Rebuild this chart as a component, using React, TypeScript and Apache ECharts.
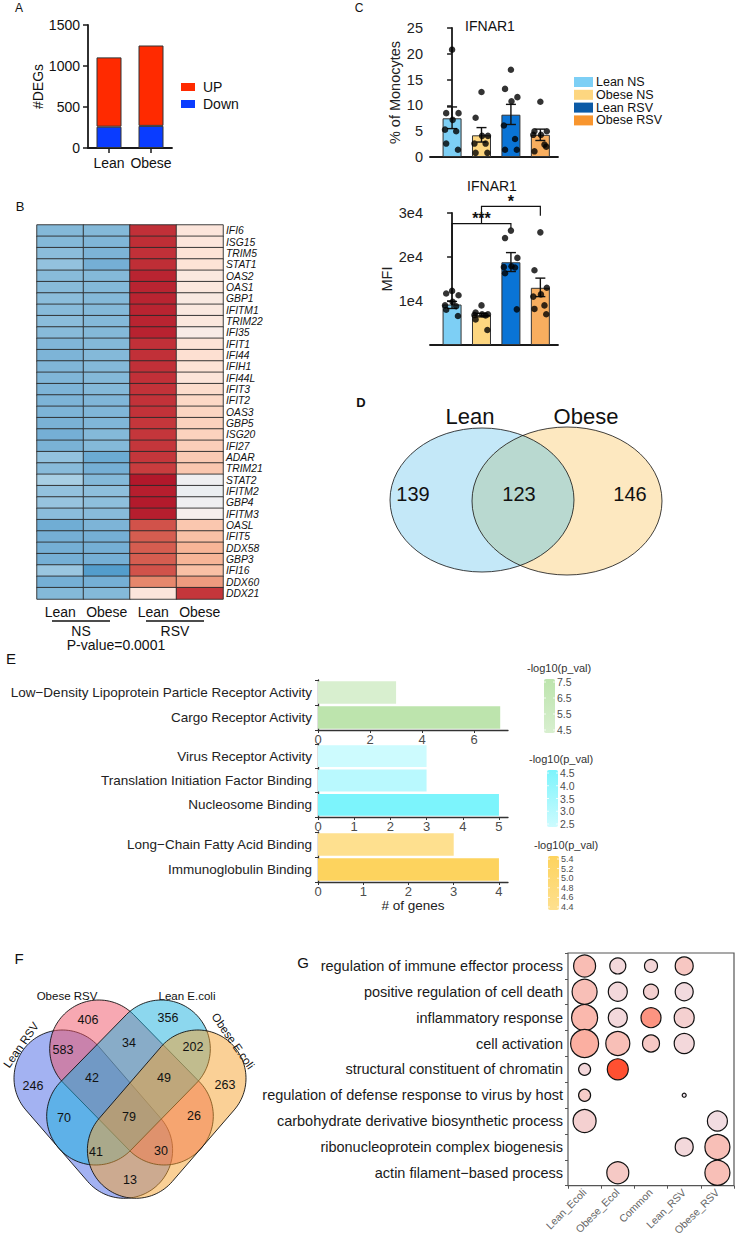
import React, { useEffect, useRef } from 'react';
import * as echarts from 'echarts';

const FONT = '"Liberation Sans", Arial, Helvetica, sans-serif';

// ---------- Panel A ----------
const degGroups = ['Lean', 'Obese'];
const degDown = [260, 270];
const degUp = [845, 980];
const degLegend = ['UP', 'Down'];
const degColors = ['#ff2a00', '#0a3cff'];

// ---------- Panel C ----------
const ifnGroups = ['Lean NS', 'Obese NS', 'Lean RSV', 'Obese RSV'];
const ifnBarColors = ['#7dcff5', '#fdd680', '#0a74d6', '#f8ae5f'];
const ifnLegendColors = ['#7dcff5', '#fdd680', '#0b5aa6', '#f8952e'];
const pctMean = [7.5, 4.2, 8.2, 4.3];
const pctLow = [5.5, 2.9, 6.3, 3.2];
const pctHigh = [9.7, 5.7, 10.2, 5.4];
const pctDots = [
  [20.8, 8.5, 8.5, 7.2, 5.3, 5.0, 2.6, 1.4],
  [12.6, 7.6, 4.1, 4.1, 2.6, 2.6, 0.8, 0.8],
  [16.9, 13.2, 11.6, 10.8, 6.1, 3.5, 1.4, 1.4],
  [10.7, 5.0, 5.0, 4.3, 4.3, 2.4, 1.1, 2.0],
];
const mfiMean = [9200, 6800, 18800, 13000];
const mfiLow = [8300, 6400, 16700, 11000];
const mfiHigh = [9900, 7200, 21000, 15200];
const mfiDots = [
  [12300, 11700, 11300, 9800, 9000, 8800, 8000, 6600],
  [9000, 7400, 7000, 7000, 6800, 6700, 5800, 3400],
  [26000, 24300, 19800, 17900, 17700, 17600, 16300, 8100],
  [25600, 17000, 13000, 11500, 11000, 9000, 8200, 7000],
];
const dotJitter = [0, -0.2, 0.22, 0.02, -0.24, 0.14, -0.2, 0.2];
const sigBrackets = [
  { from: 0, to: 2, top: 27600, leftEnd: 14800, rightEnd: 26500, label: '***' },
  { from: 1, to: 3, top: 31500, leftEnd: 27600, rightEnd: 29400, label: '*' },
];

// ---------- Panel B ----------
const heatCols = ['Lean NS', 'Obese NS', 'Lean RSV', 'Obese RSV'];
const heatGenes = ['IFI6', 'ISG15', 'TRIM5', 'STAT1', 'OAS2', 'OAS1', 'GBP1', 'IFITM1', 'TRIM22', 'IFI35', 'IFIT1', 'IFI44', 'IFIH1', 'IFI44L', 'IFIT3', 'IFIT2', 'OAS3', 'GBP5', 'ISG20', 'IFI27', 'ADAR', 'TRIM21', 'STAT2', 'IFITM2', 'GBP4', 'IFITM3', 'OASL', 'IFIT5', 'DDX58', 'GBP3', 'IFI16', 'DDX60', 'DDX21'];
const heatLeanNS = [-0.85, -0.85, -0.8, -0.75, -0.82, -0.82, -0.8, -0.82, -0.8, -0.82, -0.88, -0.9, -0.88, -0.88, -0.9, -0.9, -0.9, -0.92, -0.95, -0.92, -0.75, -0.82, -0.6, -0.75, -0.72, -0.8, -0.98, -0.95, -0.95, -0.95, -0.7, -0.95, -0.85];
const heatObeseNS = [-0.85, -0.88, -0.9, -0.95, -0.85, -0.85, -0.85, -0.85, -0.85, -0.85, -0.85, -0.85, -0.85, -0.85, -0.85, -0.88, -0.88, -0.88, -0.85, -0.85, -1.0, -0.95, -0.85, -0.78, -0.78, -0.82, -0.9, -0.95, -0.95, -0.95, -1.15, -0.95, -0.85];
const heatLeanRSV = [1.3, 1.32, 1.3, 1.32, 1.4, 1.4, 1.4, 1.4, 1.4, 1.42, 1.3, 1.3, 1.3, 1.3, 1.28, 1.28, 1.28, 1.25, 1.25, 1.25, 1.25, 1.2, 1.5, 1.45, 1.48, 1.45, 1.1, 1.05, 1.05, 1.05, 1.1, 0.85, 0.25];
const heatObeseRSV = [0.25, 0.25, 0.3, 0.3, 0.2, 0.22, 0.18, 0.2, 0.22, 0.12, 0.3, 0.32, 0.3, 0.27, 0.35, 0.38, 0.4, 0.42, 0.42, 0.45, 0.48, 0.5, -0.05, -0.08, -0.05, 0.05, 0.5, 0.55, 0.62, 0.62, 0.55, 0.75, 1.25];
const heatPalette = ['#2b72b3', '#4b98ca', '#7db4d7', '#a8cfe4', '#d4e6f1', '#f4f1f1', '#fde3d6', '#f8b99b', '#e27d62', '#c83c3e', '#b2182b'];

// ---------- Panel D ----------
const vennDSets = ['Lean', 'Obese'];
const vennDCounts = [139, 123, 146];

// ---------- Panel E ----------
const e1Terms = ['Low\u2212Density Lipoprotein Particle Receptor Activity', 'Cargo Receptor Activity'];
const e1Genes = [3, 7];
const e1P = [4.5, 7.5];
const e1Ticks = [7.5, 6.5, 5.5, 4.5];
const e2Terms = ['Virus Receptor Activity', 'Translation Initiation Factor Binding', 'Nucleosome Binding'];
const e2Genes = [3, 3, 5];
const e2P = [2.5, 3.0, 4.5];
const e2Ticks = [4.5, 4.0, 3.5, 3.0, 2.5];
const e3Terms = ['Long\u2212Chain Fatty Acid Binding', 'Immunoglobulin Binding'];
const e3Genes = [3, 4];
const e3P = [4.4, 5.4];
const e3Ticks = [5.4, 5.2, 5.0, 4.8, 4.6, 4.4];

// ---------- Panel F ----------
const vennFSets = ['Lean RSV', 'Obese RSV', 'Lean E.coli', 'Obese E.coli'];
const vennFRegions = ['A', 'B', 'C', 'D', 'AB', 'BC', 'CD', 'AC', 'BD', 'AD', 'ABC', 'BCD', 'ACD', 'ABD', 'ABCD'];
const vennFCounts = [246, 406, 356, 263, 583, 34, 202, 70, 26, 13, 42, 49, 41, 30, 79];

// ---------- Panel G ----------
const gGroups = ['Lean_Ecoli', 'Obese_Ecol', 'Common', 'Lean_RSV', 'Obese_RSV'];
const gTerms = ['regulation of immune effector process', 'positive regulation of cell death', 'inflammatory response', 'cell activation', 'structural constituent of chromatin', 'regulation of defense response to virus by host', 'carbohydrate derivative biosynthetic process', 'ribonucleoprotein complex biogenesis', 'actin filament\u2212based process'];
// [group, term, count, score]
const gPoints = [
  [0, 0, 22, 0.4], [1, 0, 16, 0.12], [2, 0, 13, 0.15], [3, 0, 18, 0.3],
  [0, 1, 25, 0.38], [1, 1, 19, 0.12], [2, 1, 15, 0.2], [3, 1, 18, 0.1],
  [0, 2, 26, 0.45], [1, 2, 19, 0.12], [2, 2, 20, 0.65], [3, 2, 20, 0.2],
  [0, 3, 28, 0.52], [1, 3, 24, 0.38], [2, 3, 17, 0.28], [3, 3, 20, 0.12],
  [0, 4, 12, 0.13], [1, 4, 21, 0.97],
  [0, 5, 12, 0.25], [3, 5, 4, 0.0],
  [0, 6, 23, 0.2], [4, 6, 20, 0.08],
  [3, 7, 18, 0.12], [4, 7, 25, 0.38],
  [1, 8, 22, 0.28], [4, 8, 25, 0.38],
];

function capsulePts(s: number[], e: number[], r: number, n = 60) {
  const th = Math.atan2(e[1] - s[1], e[0] - s[0]);
  const pts: number[][] = [];
  for (let k = 0; k <= n; k++) {
    const a = th - Math.PI / 2 + (Math.PI * k) / n;
    pts.push([e[0] + r * Math.cos(a), e[1] + r * Math.sin(a)]);
  }
  for (let k = 0; k <= n; k++) {
    const a = th + Math.PI / 2 + (Math.PI * k) / n;
    pts.push([s[0] + r * Math.cos(a), s[1] + r * Math.sin(a)]);
  }
  return pts;
}

function insideE(e: any, x: number, y: number) {
  return ((x - e.cx) / e.rx) ** 2 + ((y - e.cy) / e.ry) ** 2 <= 1;
}

function lensPts(e1: any, e2: any) {
  const p1: number[][] = [], p2: number[][] = [];
  const N = 720;
  for (let k = 0; k < N; k++) {
    const t = -Math.PI + (2 * Math.PI * k) / N;
    const x = e1.cx + e1.rx * Math.cos(t), y = e1.cy + e1.ry * Math.sin(t);
    if (insideE(e2, x, y)) p1.push([x, y]);
  }
  for (let k = 0; k < N; k++) {
    const t = (2 * Math.PI * k) / N;
    const x = e2.cx + e2.rx * Math.cos(t), y = e2.cy + e2.ry * Math.sin(t);
    if (insideE(e1, x, y)) p2.push([x, y]);
  }
  return [...p1, ...p2];
}

function buildOption() {
  const graphics: any[] = [];
  const T = (text: string, x: number, y: number, o: any = {}, rotation = 0) => {
    const align = o.align || 'center';
    const va = o.verticalAlign || 'middle';
    graphics.push({
      type: 'text', x, y, rotation, z: 20,
      style: {
        text, x: 0, y: 0, fill: '#111', fontSize: 14, fontFamily: FONT,
        ...o, align, verticalAlign: va, textAlign: align, textVerticalAlign: va,
      },
    });
  };

  // panel letters
  T('A', 19, 8, { fontSize: 12 });
  T('B', 20, 206, { fontSize: 13 });
  T('C', 359, 8, { fontSize: 12 });
  T('D', 361, 402, { fontSize: 13, fontWeight: 'bold' });
  T('E', 11, 658, { fontSize: 15 });
  T('F', 19, 958, { fontSize: 15 });
  T('G', 303, 962, { fontSize: 15 });

  // A legend
  degLegend.forEach((name, i) => {
    graphics.push({ type: 'rect', z: 20, shape: { x: 181, y: 83 + i * 17, width: 14, height: 8 }, style: { fill: degColors[i] } });
    T(name, 203, 87 + i * 17, { align: 'left', fontSize: 14 });
  });

  // C legend + titles
  ifnGroups.forEach((name, i) => {
    graphics.push({ type: 'rect', z: 20, shape: { x: 574, y: 77 + i * 12.8, width: 19, height: 10 }, style: { fill: ifnLegendColors[i] } });
    T(name, 596, 82 + i * 12.8, { align: 'left', fontSize: 12.5, lineHeight: 12.5 });
  });
  T('IFNAR1', 490, 26, { fontSize: 14 });
  T('IFNAR1', 492, 186, { fontSize: 14 });

  // B annotations
  graphics.push({ type: 'line', z: 20, shape: { x1: 52, y1: 621, x2: 110, y2: 621 }, style: { stroke: '#111', lineWidth: 1.5 } });
  graphics.push({ type: 'line', z: 20, shape: { x1: 146, y1: 621, x2: 204, y2: 621 }, style: { stroke: '#111', lineWidth: 1.5 } });
  T('NS', 81, 631, { fontSize: 14 });
  T('RSV', 175, 631, { fontSize: 14 });
  T('P-value=0.0001', 116, 645, { fontSize: 14 });

  // D venn
  const eLean = { cx: 482, cy: 500, rx: 92, ry: 72 };
  const eObese = { cx: 567, cy: 501, rx: 95, ry: 74 };
  graphics.push({ type: 'ellipse', z: 5, shape: eLean, style: { fill: '#c4e8f8', stroke: 'none' } });
  graphics.push({ type: 'ellipse', z: 5, shape: eObese, style: { fill: '#fde8c0', stroke: 'none' } });
  graphics.push({ type: 'polygon', z: 6, shape: { points: lensPts(eLean, eObese) }, style: { fill: '#b9d9d0', stroke: 'none' } });
  graphics.push({ type: 'ellipse', z: 7, shape: eLean, style: { fill: 'none', stroke: '#111', lineWidth: 0.8 } });
  graphics.push({ type: 'ellipse', z: 7, shape: eObese, style: { fill: 'none', stroke: '#111', lineWidth: 0.8 } });
  T(vennDSets[0], 470, 416, { fontSize: 22 });
  T(vennDSets[1], 586, 416, { fontSize: 22 });
  T(String(vennDCounts[0]), 413, 494, { fontSize: 20 });
  T(String(vennDCounts[1]), 519, 494, { fontSize: 20 });
  T(String(vennDCounts[2]), 630, 494, { fontSize: 20 });

  // E colorbars
  const colorbar = (x: number, top: number, h: number, ticks: number[], colors: string[], titleX: number, titleY: number, fs: number) => {
    T('-log10(p_val)', titleX, titleY, { align: 'left', fontSize: 11, fill: '#333' });
    graphics.push({
      type: 'rect', z: 20, shape: { x, y: top, width: 11, height: h, r: 2 },
      style: { fill: new echarts.graphic.LinearGradient(0, 0, 0, 1, [{ offset: 0, color: colors[1] }, { offset: 1, color: colors[0] }]) },
    });
    const mx = ticks[0], mn = ticks[ticks.length - 1];
    ticks.forEach((v) => {
      const y = top + 3 + ((mx - v) / (mx - mn)) * (h - 6);
      graphics.push({ type: 'line', z: 21, shape: { x1: x, y1: y, x2: x + 2, y2: y }, style: { stroke: '#fff', lineWidth: 0.8 } });
      graphics.push({ type: 'line', z: 21, shape: { x1: x + 9, y1: y, x2: x + 11, y2: y }, style: { stroke: '#fff', lineWidth: 0.8 } });
      T(v.toFixed(1), x + 13, y, { align: 'left', fontSize: fs, lineHeight: fs, fill: '#4d4d4d' });
    });
  };
  colorbar(544, 679, 54, e1Ticks, ['#d8efcf', '#bde4ad'], 527, 668, 10.5);
  colorbar(547, 770, 57, e2Ticks, ['#cdfbfe', '#7cf4fc'], 529, 759, 10.5);
  colorbar(548, 856, 54, e3Ticks, ['#fee08f', '#fdd35e'], 534, 845, 9);

  // F venn (4 rounded sets)
  const fSets = [
    { s: [62.3, 1078.3], e: [124.3, 1150], r: 48.3, fill: 'rgba(71,101,229,0.5)' },
    { s: [98.7, 1049], e: [164.3, 1116], r: 49, fill: 'rgba(239,81,101,0.5)' },
    { s: [161.3, 1049], e: [95.7, 1116], r: 49, fill: 'rgba(25,175,221,0.5)' },
    { s: [197.7, 1078.3], e: [135.7, 1150], r: 48.3, fill: 'rgba(245,161,45,0.5)' },
  ];
  fSets.forEach((c) => {
    graphics.push({ type: 'polygon', z: 5, shape: { points: capsulePts(c.s, c.e, c.r) }, style: { fill: c.fill, stroke: '#111', lineWidth: 0.9 } });
  });
  const fLabelPos: Record<string, number[]> = {
    A: [33, 1086], B: [88, 1020], C: [168, 1018], D: [225, 1085],
    AB: [63, 1050], BC: [129, 1043], CD: [193, 1047], AC: [64, 1118], BD: [194, 1116], AD: [130, 1180],
    ABC: [92, 1078], BCD: [164, 1078], ACD: [96, 1152], ABD: [161, 1151], ABCD: [129, 1117],
  };
  vennFRegions.forEach((r, i) => {
    const p = fLabelPos[r];
    T(String(vennFCounts[i]), p[0], p[1], { fontSize: 12.5 });
  });
  T(vennFSets[0], 21, 1045, { fontSize: 11.5 }, (55 * Math.PI) / 180);
  T(vennFSets[1], 67, 996, { fontSize: 11.5 });
  T(vennFSets[2], 187, 996, { fontSize: 11.5 });
  T(vennFSets[3], 233, 1041, { fontSize: 11.5 }, (-55 * Math.PI) / 180);

  const axisLine = { show: true, lineStyle: { color: '#1a1a1a', width: 1.8 } };
  const axisTick = { show: true, length: 5, lineStyle: { color: '#1a1a1a', width: 1.5 } };
  const eLine = { show: true, lineStyle: { color: '#333', width: 1.3 } };
  const eTick = { show: true, length: 3, lineStyle: { color: '#333', width: 1 } };
  const plain = (v: number) => String(v);

  const xAxis: any[] = [
    { gridIndex: 0, type: 'category', data: degGroups, axisLine, axisTick: { ...axisTick, alignWithLabel: true }, axisLabel: { fontSize: 14, color: '#111', margin: 8, interval: 0 } },
    { gridIndex: 1, type: 'value', min: -0.75, max: 3.6, axisLine, axisTick: { show: false }, axisLabel: { show: false }, splitLine: { show: false } },
    { gridIndex: 2, type: 'value', min: -0.75, max: 3.6, axisLine, axisTick: { show: false }, axisLabel: { show: false }, splitLine: { show: false } },
    { gridIndex: 3, type: 'category', data: heatCols, axisLine: { show: false }, axisTick: { show: false }, axisLabel: { fontSize: 14, color: '#111', margin: 6, interval: 0, formatter: (v: string) => v.split(' ')[0] } },
    { gridIndex: 4, type: 'value', min: 0, max: 7.3, interval: 2, axisLine: eLine, axisTick: eTick, splitLine: { show: false }, axisLabel: { fontSize: 13, color: '#4d4d4d', margin: 3, showMaxLabel: false } },
    { gridIndex: 5, type: 'value', min: 0, max: 5.25, interval: 1, axisLine: eLine, axisTick: eTick, splitLine: { show: false }, axisLabel: { fontSize: 13, color: '#4d4d4d', margin: 3, showMaxLabel: false } },
    { gridIndex: 6, type: 'value', min: 0, max: 4.2, interval: 1, axisLine: eLine, axisTick: eTick, splitLine: { show: false }, axisLabel: { fontSize: 13, color: '#4d4d4d', margin: 3, showMaxLabel: false }, name: '# of genes', nameLocation: 'middle', nameGap: 10, nameTextStyle: { fontSize: 13.5, color: '#222' } },
    { gridIndex: 7, type: 'category', data: gGroups, axisLine: { show: false }, axisTick: { show: true, length: 3, lineStyle: { color: '#555' } }, splitLine: { show: false }, axisLabel: { rotate: 45, fontSize: 10.5, color: '#666', margin: 5, interval: 0 } },
  ];
  const yAxis: any[] = [
    { gridIndex: 0, type: 'value', min: 0, max: 1500, interval: 500, axisLine, axisTick, splitLine: { show: false }, axisLabel: { fontSize: 14, color: '#111', margin: 8, formatter: plain }, name: '#DEGs', nameLocation: 'middle', nameGap: 41, nameTextStyle: { fontSize: 14, color: '#111' } },
    { gridIndex: 1, type: 'value', min: 0, max: 25, interval: 5, axisLine, axisTick, splitLine: { show: false }, axisLabel: { fontSize: 14.5, color: '#222', margin: 7 }, name: '% of Monocytes', nameLocation: 'middle', nameGap: 22, nameTextStyle: { fontSize: 14.5, color: '#222' } },
    { gridIndex: 2, type: 'value', min: 0, max: 30000, interval: 10000, axisLine, axisTick, splitLine: { show: false }, axisLabel: { fontSize: 14.5, color: '#222', margin: 7, formatter: (v: number) => (v === 0 ? '' : v / 10000 + 'e4') }, name: 'MFI', nameLocation: 'middle', nameGap: 36, nameTextStyle: { fontSize: 14.5, color: '#222' } },
    { gridIndex: 3, type: 'category', data: heatGenes, inverse: true, position: 'right', axisLine: { show: false }, axisTick: { show: false }, axisLabel: { fontSize: 10.3, fontStyle: 'italic', color: '#111', margin: 3, interval: 0 } },
    { gridIndex: 4, type: 'category', data: e1Terms, inverse: true, axisLine: eLine, axisTick: eTick, axisLabel: { fontSize: 13.5, color: '#222', margin: 6, interval: 0 } },
    { gridIndex: 5, type: 'category', data: e2Terms, inverse: true, axisLine: eLine, axisTick: eTick, axisLabel: { fontSize: 13.5, color: '#222', margin: 6, interval: 0 } },
    { gridIndex: 6, type: 'category', data: e3Terms, inverse: true, axisLine: eLine, axisTick: eTick, axisLabel: { fontSize: 13.5, color: '#222', margin: 6, interval: 0 } },
    { gridIndex: 7, type: 'category', data: gTerms, inverse: true, axisLine: { show: false }, axisTick: { show: true, length: 3, lineStyle: { color: '#555' } }, axisLabel: { fontSize: 14.5, color: '#1a1a1a', margin: 5, interval: 0 } },
  ];

  const series: any[] = [];
  // A
  series.push({ type: 'bar', name: 'Down', xAxisIndex: 0, yAxisIndex: 0, stack: 'deg', data: degDown, barWidth: 25, itemStyle: { color: degColors[1], borderColor: '#333', borderWidth: 1 } });
  series.push({ type: 'bar', name: 'UP', xAxisIndex: 0, yAxisIndex: 0, stack: 'deg', data: degUp, barWidth: 25, itemStyle: { color: degColors[0], borderColor: '#333', borderWidth: 1 } });

  const errRender = (params: any, api: any) => {
    const x = api.value(0);
    const lo = api.coord([x, api.value(1)]);
    const hi = api.coord([x, api.value(2)]);
    const w = 5;
    const st = { stroke: '#111', lineWidth: 1.4 };
    return {
      type: 'group', children: [
        { type: 'line', shape: { x1: lo[0], y1: lo[1], x2: hi[0], y2: hi[1] }, style: st },
        { type: 'line', shape: { x1: hi[0] - w, y1: hi[1], x2: hi[0] + w, y2: hi[1] }, style: st },
        { type: 'line', shape: { x1: lo[0] - w, y1: lo[1], x2: lo[0] + w, y2: lo[1] }, style: st },
      ],
    };
  };
  const cPanel = (axisIdx: number, mean: number[], lo: number[], hi: number[], dots: number[][]) => {
    series.push({
      type: 'bar', xAxisIndex: axisIdx, yAxisIndex: axisIdx, barWidth: 19,
      data: mean.map((v, i) => ({ value: [i, v], itemStyle: { color: ifnBarColors[i] } })),
      itemStyle: { borderColor: '#333', borderWidth: 1 },
    });
    series.push({ type: 'custom', xAxisIndex: axisIdx, yAxisIndex: axisIdx, renderItem: errRender, data: mean.map((_, i) => [i, lo[i], hi[i]]), z: 3 });
    const pts: number[][] = [];
    dots.forEach((arr, i) => arr.forEach((v, k) => pts.push([i + dotJitter[k % dotJitter.length], v])));
    series.push({ type: 'scatter', xAxisIndex: axisIdx, yAxisIndex: axisIdx, data: pts, symbolSize: 6.5, itemStyle: { color: '#000' }, z: 4 });
  };
  cPanel(1, pctMean, pctLow, pctHigh, pctDots);
  cPanel(2, mfiMean, mfiLow, mfiHigh, mfiDots);
  series.push({
    type: 'custom', xAxisIndex: 2, yAxisIndex: 2, clip: false, z: 5,
    data: sigBrackets.map((b) => [b.from, b.to, b.top, b.leftEnd, b.rightEnd]),
    renderItem: (params: any, api: any) => {
      const b = sigBrackets[params.dataIndex];
      const p1 = api.coord([api.value(0), api.value(3)]);
      const p2 = api.coord([api.value(0), api.value(2)]);
      const p3 = api.coord([api.value(1), api.value(2)]);
      const p4 = api.coord([api.value(1), api.value(4)]);
      return {
        type: 'group', children: [
          { type: 'polyline', shape: { points: [p1, p2, p3, p4] }, style: { stroke: '#111', lineWidth: 1.2, fill: 'none' } },
          { type: 'text', style: { text: b.label, x: (p2[0] + p3[0]) / 2, y: p2[1] - 5, fontSize: 16, lineHeight: 12, fontWeight: 'bold', fontFamily: FONT, fill: '#111', align: 'center', verticalAlign: 'middle', textAlign: 'center', textVerticalAlign: 'middle' } },
        ],
      };
    },
  });

  // B heatmap
  const heatCols4 = [heatLeanNS, heatObeseNS, heatLeanRSV, heatObeseRSV];
  const heatData: number[][] = [];
  heatCols4.forEach((col, j) => col.forEach((v, i) => heatData.push([j, i, v])));
  const heatIdx = series.length;
  series.push({ type: 'heatmap', xAxisIndex: 3, yAxisIndex: 3, data: heatData, itemStyle: { borderColor: '#2a2a2a', borderWidth: 0.9 } });

  // E bars
  const eIdx = series.length;
  [[e1Genes, e1P], [e2Genes, e2P], [e3Genes, e3P]].forEach(([genes, p], k) => {
    series.push({
      type: 'bar', xAxisIndex: 4 + k, yAxisIndex: 4 + k, barCategoryGap: '10%',
      data: (genes as number[]).map((g, i) => [g, i, (p as number[])[i]]), encode: { x: 0, y: 1 },
    });
  });

  // G dot plot
  const gIdx = series.length;
  series.push({
    type: 'scatter', xAxisIndex: 7, yAxisIndex: 7, data: gPoints,
    symbolSize: (v: number[]) => v[2], itemStyle: { borderColor: '#111', borderWidth: 1.2, opacity: 1 },
  });

  return {
    animation: false,
    backgroundColor: '#fff',
    textStyle: { fontFamily: FONT },
    grid: [
      { left: 88, top: 25, width: 84, height: 123 },
      { left: 430, top: 28, width: 128, height: 129 },
      { left: 430, top: 213, width: 128, height: 132 },
      { left: 37, top: 225, width: 186, height: 374 },
      { left: 318, top: 680, width: 190, height: 50 },
      { left: 318, top: 744, width: 190, height: 73 },
      { left: 318, top: 832, width: 190, height: 50 },
      { left: 568, top: 953, width: 166, height: 235, show: true, borderColor: '#555', borderWidth: 1.2, backgroundColor: 'transparent' },
    ],
    xAxis,
    yAxis,
    visualMap: [
      { type: 'continuous', show: false, seriesIndex: heatIdx, dimension: 2, min: -1.5, max: 1.5, inRange: { color: heatPalette } },
      { type: 'continuous', show: false, seriesIndex: eIdx, dimension: 2, min: 4.5, max: 7.5, inRange: { color: ['#d8efcf', '#bde4ad'] } },
      { type: 'continuous', show: false, seriesIndex: eIdx + 1, dimension: 2, min: 2.5, max: 4.5, inRange: { color: ['#cdfbfe', '#7cf4fc'] } },
      { type: 'continuous', show: false, seriesIndex: eIdx + 2, dimension: 2, min: 4.4, max: 5.4, inRange: { color: ['#fee08f', '#fdd35e'] } },
      { type: 'continuous', show: false, seriesIndex: gIdx, dimension: 3, min: 0, max: 1, inRange: { color: ['#f0e4ec', '#fbb3a6', '#ff4a2a'] } },
    ],
    graphic: { elements: graphics },
    series,
  };
}

export default function App() {
  const ref = useRef<HTMLDivElement>(null);
  useEffect(() => {
    const chart = echarts.init(ref.current as HTMLDivElement, null, { renderer: 'svg' });
    chart.setOption(buildOption() as any);
    return () => chart.dispose();
  }, []);
  return <div ref={ref} style={{ position: 'absolute', left: 0, top: 0, width: 735, height: 1238, background: '#fff' }} />;
}
